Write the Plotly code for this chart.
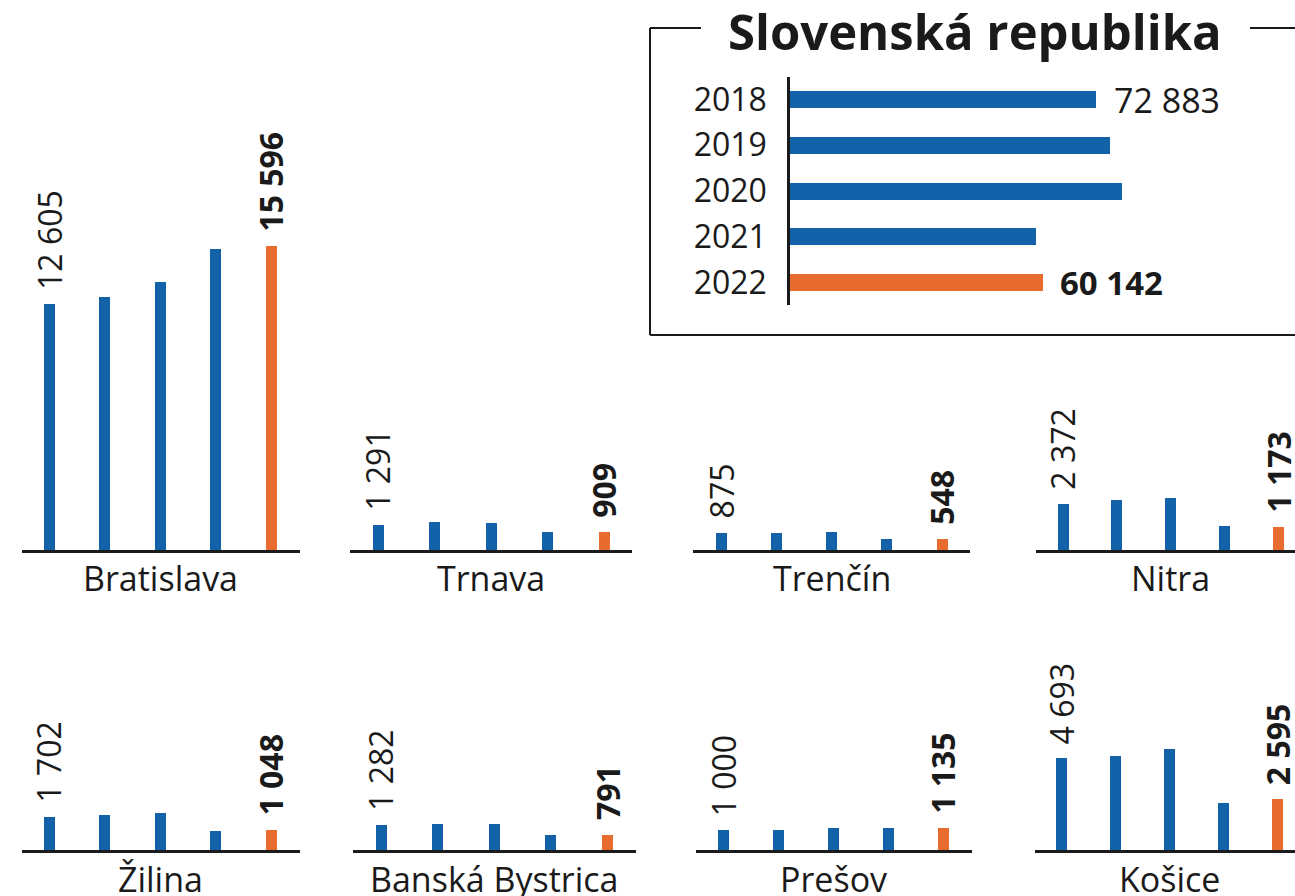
import plotly.graph_objects as go

# ---------------- data ----------------
years = ["2018", "2019", "2020", "2021", "2022"]

bratislava = [12605, 12960, 13730, 15420, 15596]
trnava = [1291, 1410, 1405, 925, 909]
trencin = [875, 878, 926, 545, 548]
nitra = [2372, 2580, 2640, 1225, 1173]
zilina = [1702, 1790, 1890, 995, 1048]
banska_bystrica = [1282, 1330, 1330, 745, 791]
presov = [1000, 1050, 1110, 1110, 1135]
kosice = [4693, 4800, 5150, 2400, 2595]

region_names = ["Bratislava", "Trnava", "Trenčín", "Nitra",
                "Žilina", "Banská Bystrica", "Prešov", "Košice"]
region_values = [bratislava, trnava, trencin, nitra,
                 zilina, banska_bystrica, presov, kosice]

slovakia = [72883, 76220, 79080, 58600, 60142]

# ---------------- style / layout ----------------
W, H = 1295, 896
BLUE = "#1261a9"
ORANGE = "#e86c30"
INK = "#1a1a1a"
FONT = "Open Sans"

colors = [BLUE, BLUE, BLUE, BLUE, ORANGE]

PX_PER_UNIT = 246 / 12605  # vertical scale shared by all regional panels

# (baseline left px, baseline right px, first bar centre px, bar spacing px, row)
panels = [
    (22, 300, 49, 55.5, 0),
    (350, 632, 378, 56.5, 0),
    (693, 970, 721, 55.25, 0),
    (1036, 1295, 1063, 53.9, 0),
    (22, 300, 49, 55.5, 1),
    (353, 636, 381, 56.5, 1),
    (696, 972, 723, 55.0, 1),
    (1035, 1295, 1061, 54.2, 1),
]
row_base = [550, 850]
row_top = [130, 620]
label_y = [578, 879]


def px_x(x):
    return x / W


def px_y(y):
    return 1 - y / H


def fmt(v):
    return f"{v:,}".replace(",", " ")


fig = go.Figure()
annotations = []
layout_axes = {}

for i, (name, vals) in enumerate(zip(region_names, region_values)):
    left, right, first, sp, row = panels[i]
    n = i + 1
    xa = "x" if n == 1 else f"x{n}"
    ya = "y" if n == 1 else f"y{n}"
    xkey = "xaxis" if n == 1 else f"xaxis{n}"
    ykey = "yaxis" if n == 1 else f"yaxis{n}"
    xs = list(range(len(years)))
    fig.add_trace(go.Bar(
        x=xs, y=vals, marker=dict(color=colors, line=dict(width=0)),
        width=11 / sp, xaxis=xa, yaxis=ya, showlegend=False,
        hoverinfo="skip",
    ))
    base, top = row_base[row], row_top[row]
    layout_axes[xkey] = dict(
        domain=[px_x(left), px_x(right)],
        range=[(left - first) / sp, (right - first) / sp],
        showgrid=False, zeroline=False, showticklabels=False, ticks="",
        showline=True, linecolor=INK, linewidth=3,
        anchor=ya, fixedrange=True,
    )
    layout_axes[ykey] = dict(
        domain=[px_y(base), px_y(top)],
        range=[0, (base - top) / PX_PER_UNIT],
        showgrid=False, zeroline=False, showticklabels=False, ticks="",
        showline=False, anchor=xa, fixedrange=True,
    )
    # value labels on first and last bar
    annotations.append(dict(
        x=0, y=vals[0], xref=xa, yref=ya, text=fmt(vals[0]),
        textangle=-90, showarrow=False, xanchor="center", yanchor="bottom",
        yshift=12, font=dict(family=FONT, size=32, color=INK),
    ))
    annotations.append(dict(
        x=4, y=vals[4], xref=xa, yref=ya, text="<b>" + fmt(vals[4]) + "</b>",
        textangle=-90, showarrow=False, xanchor="center", yanchor="bottom",
        yshift=12, font=dict(family=FONT, size=32, color=INK),
    ))
    # region name
    annotations.append(dict(
        x=px_x(first + 2 * sp), y=px_y(label_y[row]), xref="paper", yref="paper",
        text=name, showarrow=False, xanchor="center", yanchor="middle",
        font=dict(family=FONT, size=34, color=INK),
    ))

# ---------------- Slovenská republika inset ----------------
sr_axis_x = 790
sr_top, sr_bot = 77, 305
sr_px_per_unit = 306 / 72883
sr_spacing = 45.75
fig.add_trace(go.Bar(
    x=slovakia, y=list(range(len(years))), orientation="h",
    marker=dict(color=colors, line=dict(width=0)), width=17 / sr_spacing,
    xaxis="x9", yaxis="y9", showlegend=False, hoverinfo="skip",
))
layout_axes["xaxis9"] = dict(
    domain=[px_x(sr_axis_x), 1], range=[0, (W - sr_axis_x) / sr_px_per_unit],
    showgrid=False, zeroline=False, showticklabels=False, ticks="",
    showline=False, anchor="y9", fixedrange=True,
)
half = (sr_bot - sr_top) / sr_spacing
pad = (half - 4) / 2
layout_axes["yaxis9"] = dict(
    domain=[px_y(sr_bot), px_y(sr_top)], range=[4 + pad, -pad],
    tickvals=list(range(len(years))), ticktext=years,
    tickfont=dict(family=FONT, size=32, color=INK),
    showgrid=False, zeroline=False, ticks="", ticklabelstandoff=14,
    showline=True, linecolor=INK, linewidth=2.5,
    anchor="x9", fixedrange=True,
)
annotations.append(dict(
    x=slovakia[0], y=0, xref="x9", yref="y9", text=fmt(slovakia[0]),
    showarrow=False, xanchor="left", yanchor="middle", xshift=16,
    font=dict(family=FONT, size=34, color=INK),
))
annotations.append(dict(
    x=slovakia[4], y=4, xref="x9", yref="y9", text="<b>" + fmt(slovakia[4]) + "</b>",
    showarrow=False, xanchor="left", yanchor="middle", xshift=15,
    font=dict(family=FONT, size=33, color=INK),
))
annotations.append(dict(
    x=px_x(975), y=px_y(31), xref="paper", yref="paper",
    text="<b>Slovenská republika</b>", showarrow=False,
    xanchor="center", yanchor="middle",
    font=dict(family=FONT, size=49, color=INK, weight=800),
))

box_line = dict(color=INK, width=2)
shapes = [
    dict(type="line", xref="paper", yref="paper", x0=px_x(650), x1=px_x(650),
         y0=px_y(28), y1=px_y(335), line=box_line),
    dict(type="line", xref="paper", yref="paper", x0=px_x(650), x1=1,
         y0=px_y(335), y1=px_y(335), line=box_line),
    dict(type="line", xref="paper", yref="paper", x0=px_x(650), x1=px_x(701),
         y0=px_y(28), y1=px_y(28), line=box_line),
    dict(type="line", xref="paper", yref="paper", x0=px_x(1250), x1=1,
         y0=px_y(28), y1=px_y(28), line=box_line),
]

fig.update_layout(
    width=W, height=H, margin=dict(l=0, r=0, t=0, b=0),
    paper_bgcolor="white", plot_bgcolor="rgba(0,0,0,0)",
    font=dict(family=FONT, color=INK),
    annotations=annotations, shapes=shapes, bargap=0,
    **layout_axes,
)

fig.write_html(
    "out.html",
    config={"displayModeBar": False},
    post_script="document.body.style.margin='0';document.body.style.overflow='hidden';",
)
